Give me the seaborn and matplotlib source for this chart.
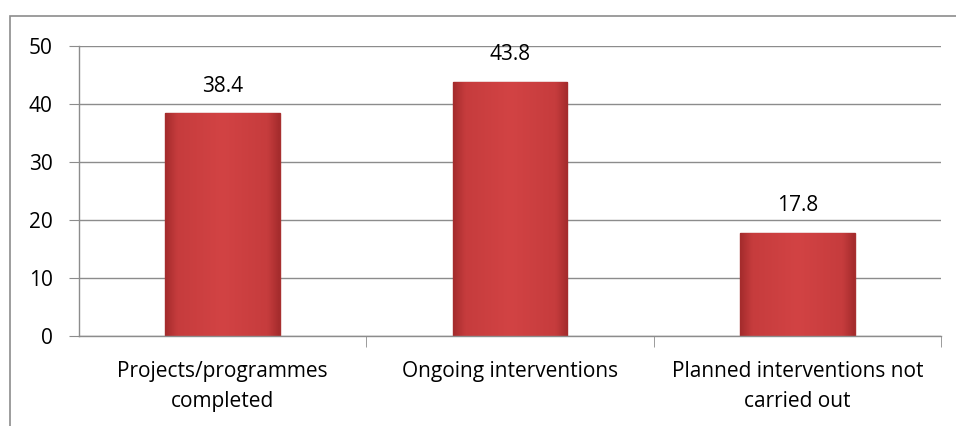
import matplotlib
matplotlib.use("Agg")
import matplotlib.pyplot as plt
from matplotlib.patches import Rectangle
from matplotlib.colors import LinearSegmentedColormap
import seaborn as sns
import pandas as pd
import numpy as np

categories = ["Projects/programmes\ncompleted", "Ongoing interventions",
              "Planned interventions not\ncarried out"]
values = [38.4, 43.8, 17.8]

sns.set_style("white")
plt.rcParams["font.family"] = ["Open Sans", "DejaVu Sans"]
plt.rcParams["text.color"] = "black"
plt.rcParams["xtick.labelcolor"] = "black"
plt.rcParams["ytick.labelcolor"] = "black"

df = pd.DataFrame({"category": categories, "value": values})

fig = plt.figure(figsize=(9.56, 4.26), dpi=100)
ax = fig.add_axes([79 / 956, 1 - 336 / 426, (941 - 79) / 956, (336 - 46) / 426])

sns.barplot(data=df, x="category", y="value", ax=ax, color="#C83A3C",
            width=0.4, edgecolor="#A8302F", linewidth=1.0, saturation=1)

# soft bevel shading on the bars
bevel = LinearSegmentedColormap.from_list(
    "bevel", [(0, "#A52C2D"), (0.1, "#C63C3D"), (0.5, "#D24344"),
              (0.9, "#C63C3D"), (1, "#A52C2D")])
grad = np.linspace(0, 1, 64).reshape(1, -1)
for p in ax.patches:
    x0, y0 = p.get_x(), p.get_y()
    w, h = p.get_width(), p.get_height()
    im = ax.imshow(grad, cmap=bevel, aspect="auto", zorder=p.get_zorder() + 0.1,
                   extent=[x0, x0 + w, y0, y0 + h], interpolation="bicubic")
    im.set_clip_path(p)

ax.set_ylim(0, 50)
ax.set_xlim(-0.5, 2.5)
ax.set_yticks(range(0, 51, 10))
ax.yaxis.grid(True, color="#8c8c8c", linewidth=1)
ax.set_axisbelow(True)
ax.set_xlabel("")
ax.set_ylabel("")

for s in ["top", "right"]:
    ax.spines[s].set_visible(False)
for s in ["left", "bottom"]:
    ax.spines[s].set_color("#8c8c8c")
    ax.spines[s].set_linewidth(1)

ax.tick_params(axis="y", length=7, color="#8c8c8c", labelsize=15, pad=12, left=True)
ax.tick_params(axis="x", length=0, labelsize=15, pad=18)
for t in ax.get_xticklabels():
    t.set_linespacing(1.55)

# ticks on category boundaries
ax.set_xticks([0.5, 1.5, 2.5], minor=True)
ax.tick_params(axis="x", which="minor", length=8, color="#8c8c8c", bottom=True)

for c in ax.containers:
    ax.bar_label(c, fmt="%.1f", padding=12, fontsize=15)

fig.patches.append(Rectangle((10 / 956, -0.1), 1.2, 1.1 - 16 / 426,
                             transform=fig.transFigure, fill=False,
                             edgecolor="#8c8c8c", linewidth=1.2))

fig.savefig("out.png", dpi=100)
